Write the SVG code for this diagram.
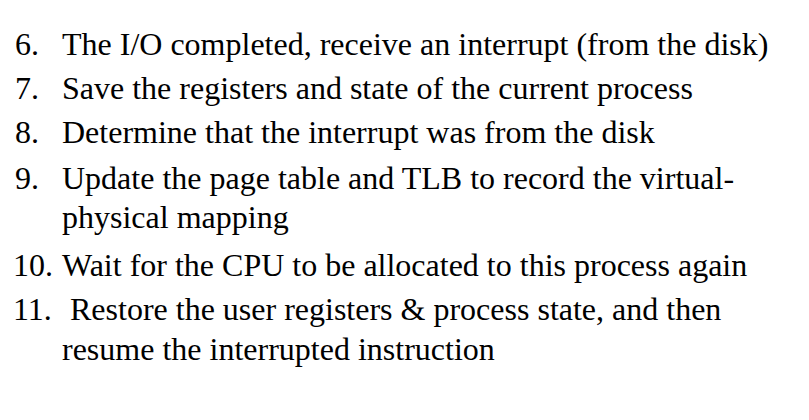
<svg xmlns="http://www.w3.org/2000/svg" width="809" height="420" viewBox="0 0 809 420">
<style>text{font-family:"Liberation Serif","Times New Roman",serif;font-size:32px;fill:#000}</style>
<rect width="809" height="420" fill="#fff"/>
<g id="item6"><text x="15" y="55">6.</text><text x="62" y="55">The I/O completed, receive an interrupt (from the disk)</text></g>
<g id="item7"><text x="15" y="99">7.</text><text x="62" y="99">Save the registers and state of the current process</text></g>
<g id="item8"><text x="15" y="143">8.</text><text x="62" y="143">Determine that the interrupt was from the disk</text></g>
<g id="item9"><text x="15" y="189">9.</text><text x="62" y="189">Update the page table and TLB to record the virtual-</text><text x="62" y="228">physical mapping</text></g>
<g id="item10"><text x="13" y="276">10.</text><text x="62" y="276">Wait for the CPU to be allocated to this process again</text></g>
<g id="item11"><text x="13" y="320">11.</text><text x="70" y="320">Restore the user registers &amp; process state, and then</text><text x="62" y="360">resume the interrupted instruction</text></g>
</svg>
